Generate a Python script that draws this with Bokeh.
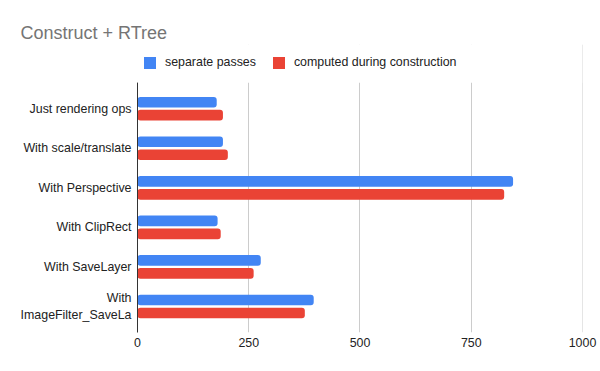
from bokeh.plotting import figure
from bokeh.models import (ColumnDataSource, Range1d, Legend, LegendItem, BoxAnnotation,
                          FixedTicker)
from bokeh.transform import dodge
from bokeh.embed import file_html
from bokeh.resources import INLINE

categories = ["Just rendering ops", "With scale/translate", "With Perspective",
              "With ClipRect", "With SaveLayer", "With\nImageFilter_SaveLa"]
separate_passes = [178, 192, 844, 180, 277, 396]
computed_during_construction = [192, 203, 824, 187, 261, 376]
x_ticks = [0, 250, 500, 750, 1000]
series_names = ["separate passes", "computed during construction"]
title_text = "Construct + RTree"

FONT = "Liberation Sans"
LBL = "12.4px"
BLUE = "#4285F4"
RED = "#EA4335"

pos = list(range(len(categories)))          # category slots, top to bottom
src = ColumnDataSource(dict(pos=pos, sep=separate_passes, comp=computed_during_construction))

PAD = 0.657            # space between outer bars and plot-area edge (category units)
HEAD = 0.966           # extra room above the plot area for the legend
y_bottom = len(categories) - 1 + PAD
y_top = -PAD - HEAD

p = figure(width=600, height=371, output_backend="svg", toolbar_location=None,
           x_range=Range1d(0, 1000.01), y_range=Range1d(y_bottom, y_top),
           min_border_left=137, min_border_right=18, min_border_top=44, min_border_bottom=39)

r1 = p.hbar(y=dodge("pos", -0.164), right="sep", left=0, height=0.27,
            source=src, fill_color=BLUE, line_color=None, border_radius=3)
r2 = p.hbar(y=dodge("pos", 0.164), right="comp", left=0, height=0.27,
            source=src, fill_color=RED, line_color=None, border_radius=3)

p.outline_line_color = None
p.background_fill_color = "white"
p.border_fill_color = "white"
p.ygrid.grid_line_color = None
p.xgrid.grid_line_color = "#cccccc"
p.xgrid.grid_line_width = 1

# blank strip above the plot area (hides grid lines where the legend sits)
p.add_layout(BoxAnnotation(top=y_top - 1, bottom=-PAD, fill_color="white", fill_alpha=1,
                           line_color=None))

p.xaxis.ticker = FixedTicker(ticks=x_ticks)
p.xaxis.axis_line_color = None
p.xaxis.major_tick_line_color = None
p.xaxis.minor_tick_line_color = None
p.xaxis.major_tick_in = 0
p.xaxis.major_tick_out = 0
p.xaxis.major_label_standoff = 5
p.xaxis.major_label_text_font = FONT
p.xaxis.major_label_text_font_size = LBL
p.xaxis.major_label_text_color = "#222222"

p.yaxis.ticker = FixedTicker(ticks=pos)
p.yaxis.major_label_overrides = {i: c for i, c in zip(pos, categories)}
p.yaxis.bounds = (-PAD, y_bottom)
p.yaxis.axis_line_color = "#333333"
p.yaxis.axis_line_width = 1
p.yaxis.major_tick_line_color = None
p.yaxis.minor_tick_line_color = None
p.yaxis.major_tick_in = 0
p.yaxis.major_tick_out = 0
p.yaxis.major_label_standoff = 6
p.yaxis.major_label_text_font = FONT
p.yaxis.major_label_text_font_size = LBL
p.yaxis.major_label_text_color = "#222222"

legend = Legend(items=[LegendItem(label=series_names[0], renderers=[r1]),
                       LegendItem(label=series_names[1], renderers=[r2])],
                orientation="horizontal", location=(5, 262.5),
                glyph_width=15, glyph_height=15, label_height=15, label_standoff=8,
                spacing=15, padding=0, margin=0,
                label_text_font=FONT, label_text_font_size=LBL, label_text_color="#222222",
                border_line_color=None, background_fill_alpha=0)
p.add_layout(legend, "center")

p.title.text = title_text
p.title.align = "left"
p.title.offset = -117
p.title.standoff = 3
p.title.text_font = FONT
p.title.text_font_size = "18px"
p.title.text_font_style = "normal"
p.title.text_color = "#757575"

open("out.html", "w").write(file_html(p, INLINE))
